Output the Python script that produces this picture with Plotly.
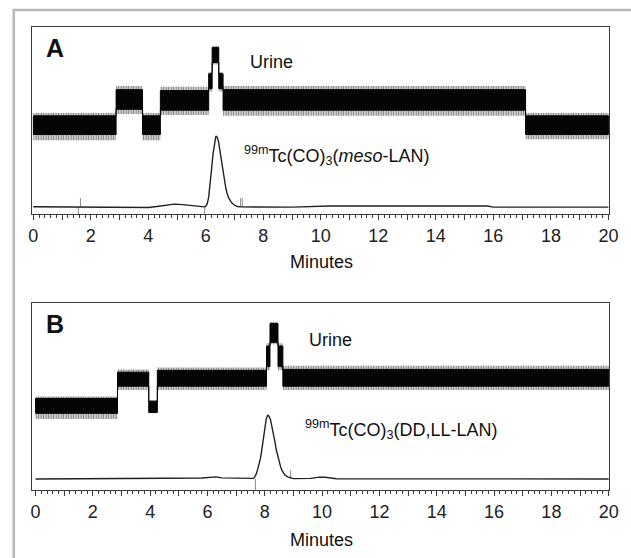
import plotly.graph_objects as go

W, H = 631, 558

# ---------------- data ----------------
# Panel A radio trace (minutes, relative signal)
a_radio_t = [0, 1.2, 1.4, 4.0, 4.3, 4.6, 4.9, 5.2, 5.5, 5.8, 5.95, 6.0, 6.05, 6.1, 6.15, 6.2,
             6.25, 6.3, 6.35, 6.4, 6.45, 6.5, 6.55, 6.6, 6.65, 6.7, 6.75, 6.8, 6.9, 7.0,
             7.1, 7.2, 9.0, 10.3, 15.8, 16.0, 20.0]
a_radio_v = [3.9, 3.9, 3.6, 3.5, 4.0, 4.8, 5.3, 5.0, 4.4, 3.8, 3.8, 4.2, 5.5, 9, 15, 24,
             32, 38.5, 41.7, 41, 38, 33, 27.5, 22, 17.5, 13.5, 10.5, 8.5, 6, 4.7,
             4.0, 3.8, 3.7, 4.3, 4.3, 3.7, 3.7]
# integration markers of panel A (minutes, lower, upper)
a_mark_t = [1.57, 1.64, 5.96, 7.21, 7.27]
a_mark_lo = [0.0, 3.8, 0.0, 3.8, 3.8]
a_mark_hi = [3.8, 8.5, 3.8, 8.5, 8.5]

# Panel A urine trace: step levels of the noise band
a_urine_edges = [0, 2.88, 3.8, 4.42, 6.1, 6.22, 6.45, 6.6, 17.12, 20]
a_outer_hi = [54, 68.5, 54, 68, 76, 90, 76, 68.5, 54]
a_outer_lo = [39.5, 53.5, 39.5, 53, 65.5, 80, 65.5, 52.5, 40]
a_core_hi = [52.5, 66.5, 52.5, 66, 75, 89, 75, 66.5, 52.5]
a_core_lo = [42.5, 56, 42.5, 55.5, 67, 81, 67, 55.5, 42.5]

# Panel B radio trace
b_radio_t = [0, 4.5, 4.55, 5.8, 6.1, 6.3, 6.5, 7.5, 7.6, 7.65, 7.7, 7.75, 7.8, 7.85, 7.9,
             7.95, 8.0, 8.05, 8.1, 8.15, 8.2, 8.25, 8.3, 8.35, 8.4, 8.45, 8.5, 8.55,
             8.6, 8.7, 8.8, 8.9, 9.0, 9.6, 9.9, 10.1, 10.5, 20.0]
b_radio_v = [5.9, 5.9, 6.3, 6.4, 6.9, 7.0, 6.5, 6.4, 6.2, 7, 8.5, 11, 14, 17, 22,
             28, 34, 38, 40, 39.5, 37.5, 34, 30, 26, 21.5, 18, 15, 12.5,
             10.5, 8, 7, 6.5, 6.1, 6.2, 6.9, 6.8, 6.0, 5.9]
b_mark_t = [7.67, 8.9]
b_mark_lo = [0.0, 6.0]
b_mark_hi = [6.0, 10.5]

# Panel B urine trace
b_urine_edges = [0, 2.86, 3.95, 4.25, 8.06, 8.18, 8.46, 8.63, 20]
b_outer_hi = [50, 64.5, 48, 65.5, 78.5, 90, 78.5, 66.5]
b_outer_lo = [38, 53.5, 41, 53.5, 64, 78, 64, 53.5]
b_core_hi = [49, 63, 47.5, 64, 77, 89, 77, 64.5]
b_core_lo = [41, 55.5, 41.5, 55.5, 66, 79, 66, 55.5]

tick_vals = list(range(0, 21))
tick_text = [str(v) if v % 2 == 0 else "" for v in tick_vals]

# ---------------- helpers ----------------
def px(x):
    return x / W

def py(y):
    return 1 - y / H

def band(edges, lo, hi):
    xs, ys = [], []
    for i in range(len(hi)):
        xs += [edges[i], edges[i + 1]]
        ys += [hi[i], hi[i]]
    for i in reversed(range(len(lo))):
        xs += [edges[i + 1], edges[i]]
        ys += [lo[i], lo[i]]
    xs.append(xs[0]); ys.append(ys[0])
    return xs, ys

def marks(ts, los, his):
    xs, ys = [], []
    for t, lo, hi in zip(ts, los, his):
        xs += [t, t, None]
        ys += [lo, hi, None]
    return xs, ys

fig = go.Figure()

panels = [
    dict(xa="x", ya="y", rt=a_radio_t, rv=a_radio_v, mk=(a_mark_t, a_mark_lo, a_mark_hi),
         ed=a_urine_edges, olo=a_outer_lo, ohi=a_outer_hi, clo=a_core_lo, chi=a_core_hi),
    dict(xa="x2", ya="y2", rt=b_radio_t, rv=b_radio_v, mk=(b_mark_t, b_mark_lo, b_mark_hi),
         ed=b_urine_edges, olo=b_outer_lo, ohi=b_outer_hi, clo=b_core_lo, chi=b_core_hi),
]

for p in panels:
    ox, oy = band(p["ed"], p["olo"], p["ohi"])
    fig.add_trace(go.Scatter(x=ox, y=oy, xaxis=p["xa"], yaxis=p["ya"], mode="lines",
                             fill="toself", fillcolor="rgba(255,255,255,0)",
                             fillpattern=dict(shape="|", fgcolor="#000", bgcolor="white",
                                              size=2.5, solidity=0.6),
                             line=dict(color="rgba(0,0,0,0)", width=0), hoverinfo="skip"))
    cx, cy = band(p["ed"], p["clo"], p["chi"])
    fig.add_trace(go.Scatter(x=cx, y=cy, xaxis=p["xa"], yaxis=p["ya"], mode="lines",
                             fill="toself", fillcolor="#050505",
                             line=dict(color="#050505", width=1), hoverinfo="skip"))
    mx, my = marks(*p["mk"])
    fig.add_trace(go.Scatter(x=mx, y=my, xaxis=p["xa"], yaxis=p["ya"], mode="lines",
                             line=dict(color="#8a8a8a", width=1), hoverinfo="skip"))
    fig.add_trace(go.Scatter(x=p["rt"], y=p["rv"], xaxis=p["xa"], yaxis=p["ya"],
                             mode="lines", line=dict(color="#222", width=1.4),
                             hoverinfo="skip"))

xcommon = dict(showline=True, linecolor="#3a3a3a", linewidth=1.3, mirror=True,
               ticks="outside", ticklen=5, tickwidth=1, tickcolor="#3a3a3a",
               tickvals=tick_vals, ticktext=tick_text, showgrid=False, zeroline=False,
               tickfont=dict(family="Liberation Sans, Arial", size=18, color="#222"),
               minor=dict(dtick=0.2, ticks="outside", ticklen=2.5, tickcolor="#3a3a3a",
                          tickwidth=1, showgrid=False))
ycommon = dict(showline=True, linecolor="#3a3a3a", linewidth=1.3, mirror=True,
               showticklabels=False, ticks="", showgrid=False, zeroline=False,
               range=[0, 100])

fig.update_layout(
    width=W, height=H, margin=dict(l=0, r=0, t=0, b=0),
    paper_bgcolor="white", plot_bgcolor="white", showlegend=False,
    xaxis=dict(domain=[px(29), px(618)], anchor="y", range=[-0.03, 20.03], **xcommon),
    yaxis=dict(domain=[py(214), py(27)], anchor="x", **ycommon),
    xaxis2=dict(domain=[px(29), px(618)], anchor="y2", range=[-0.11, 20.02], **xcommon),
    yaxis2=dict(domain=[py(490), py(303)], anchor="x2", **ycommon),
)

font = dict(family="Liberation Sans, Arial", color="#111")
ann = [
    dict(text="<b>A</b>", x=px(52), y=py(48), size=25),
    dict(text="Urine", x=px(273), y=py(62), size=18),
    dict(text="<sup>99m</sup>Tc(CO)<sub>3</sub>(<i>meso</i>-LAN)", x=px(243), y=py(156),
         size=18, xanchor="left"),
    dict(text="Minutes", x=px(324), y=py(262), size=18),
    dict(text="<b>B</b>", x=px(52), y=py(324), size=25),
    dict(text="Urine", x=px(333), y=py(340), size=18),
    dict(text="<sup>99m</sup>Tc(CO)<sub>3</sub>(DD,LL-LAN)", x=px(305), y=py(430),
         size=18, xanchor="left"),
    dict(text="Minutes", x=px(324), y=py(540), size=18),
]
for a in ann:
    fig.add_annotation(text=a["text"], x=a["x"], y=a["y"], xref="paper", yref="paper",
                       xanchor=a.get("xanchor", "center"), yanchor="middle",
                       showarrow=False, font=dict(size=a["size"], **font))

# light grey outer frame of the figure
fig.add_shape(type="rect", xref="paper", yref="paper", x0=px(10), x1=1.05,
              y0=-0.05, y1=py(10), line=dict(color="#b8b8b8", width=2.5))

fig.write_html("out.html", config={"displayModeBar": False},
               post_script="document.body.style.margin='0';"
                           "document.body.style.overflow='hidden';")
